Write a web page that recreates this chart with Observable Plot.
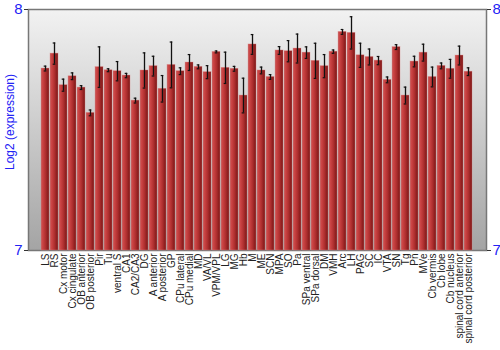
<!DOCTYPE html>
<html>
<head>
<meta charset="utf-8">
<script src="https://cdn.jsdelivr.net/npm/d3@7"></script>
<script src="https://cdn.jsdelivr.net/npm/@observablehq/plot@0.6"></script>
<style>
  html, body { margin: 0; padding: 0; background: #fff; }
  #chart svg { display: block; font-family: "Liberation Sans", Arial, sans-serif; }
</style>
</head>
<body>
<div id="chart"></div>
<script>
const regions = ["LS","RS","Cx motor","Cx cingulate","OB anterior","OB posterior","Pir","Tu","ventral S","CA1","CA2/CA3","DG","A anterior","A posterior","GP","CPu lateral","CPu medial","MD","VA/VL","VPM/VPL","LG","MG","Hb","M","ME","SCN","MPA","SO","Pa","SPa ventral","SPa dorsal","DM","VMH","Arc","LH","PAG","SC","IC","VTA","SN","Tg","Pn","MVe","Cb vermis","Cb lobe","Cb nucleus","spinal cord anterior","spinal cord posterior"];
const values = [7.755,7.817,7.686,7.723,7.676,7.571,7.761,7.748,7.744,7.726,7.622,7.747,7.765,7.671,7.770,7.744,7.780,7.762,7.740,7.824,7.758,7.754,7.643,7.855,7.747,7.720,7.830,7.827,7.838,7.821,7.787,7.765,7.825,7.907,7.903,7.810,7.803,7.788,7.708,7.844,7.643,7.784,7.821,7.720,7.766,7.754,7.809,7.742];
const errors = [0.010,0.044,0.025,0.014,0.008,0.012,0.084,0.006,0.040,0.009,0.010,0.073,0.041,0.055,0.095,0.014,0.033,0.008,0.027,0.004,0.065,0.010,0.072,0.041,0.014,0.010,0.016,0.044,0.060,0.024,0.073,0.048,0.007,0.010,0.067,0.050,0.033,0.017,0.012,0.010,0.035,0.022,0.035,0.041,0.012,0.039,0.039,0.016];
const yTicks = [7, 8];
const yLabel = "Log2 (expression)";

const data = regions.map((r, i) => ({region: r, value: values[i], lo: values[i] - errors[i], hi: values[i] + errors[i]}));
const blue = "#2222f5";

const chart = Plot.plot({
  width: 500,
  height: 350,
  marginLeft: 28,
  marginRight: 14,
  marginTop: 9,
  marginBottom: 100,
  style: {fontFamily: "'Liberation Sans', Arial, sans-serif", background: "#fff"},
  x: {domain: regions, padding: 0.1, label: null},
  y: {domain: [7, 8], label: null},
  marks: [
    Plot.frame({fill: "url(#bgGrad)", stroke: "#777", strokeWidth: 1.5}),
    Plot.barY(data, {x: "region", y1: 7, y2: "value", fill: "url(#barGrad)", stroke: "#d88", strokeOpacity: 0.6, strokeWidth: 0.6}),
    Plot.ruleX(data, {x: "region", y1: "lo", y2: "hi", stroke: "#111", strokeWidth: 1.3}),
    Plot.tickY(data, {x: "region", y: "lo", stroke: "#111", strokeWidth: 1.2, insetLeft: 2.7, insetRight: 2.7}),
    Plot.tickY(data, {x: "region", y: "hi", stroke: "#111", strokeWidth: 1.2, insetLeft: 2.7, insetRight: 2.7}),
    Plot.axisY({anchor: "left", ticks: yTicks, tickFormat: d => d, tickSize: 4, tickPadding: 2, fontSize: 15, stroke: "#333", fill: blue, label: null}),
    Plot.axisY({anchor: "right", ticks: yTicks, tickFormat: d => d, tickSize: 4, tickPadding: 2, fontSize: 15, stroke: "#333", fill: blue, label: null}),
    Plot.axisX({tickRotate: -90, tickSize: 0, tickPadding: 3, fontSize: 10, fill: "#222", label: null}),
    Plot.text([yLabel], {frameAnchor: "left", rotate: -90, dx: -18, dy: -8, fontSize: 12, fill: blue, textAnchor: "middle"})
  ]
});

const svg = d3.select(chart);
const defs = svg.insert("defs", ":first-child");
const bg = defs.append("linearGradient").attr("id", "bgGrad").attr("x1", 0).attr("y1", 0).attr("x2", 0).attr("y2", 1);
bg.append("stop").attr("offset", "0%").attr("stop-color", "#f2f2f2");
bg.append("stop").attr("offset", "100%").attr("stop-color", "#a4a4a4");
const bar = defs.append("linearGradient").attr("id", "barGrad").attr("x1", 0).attr("y1", 0).attr("x2", 1).attr("y2", 0);
bar.append("stop").attr("offset", "0%").attr("stop-color", "#c25a5a");
bar.append("stop").attr("offset", "20%").attr("stop-color", "#cc4444");
bar.append("stop").attr("offset", "55%").attr("stop-color", "#b03030");
bar.append("stop").attr("offset", "100%").attr("stop-color", "#7a1515");

document.getElementById("chart").appendChild(chart);
</script>
</body>
</html>
